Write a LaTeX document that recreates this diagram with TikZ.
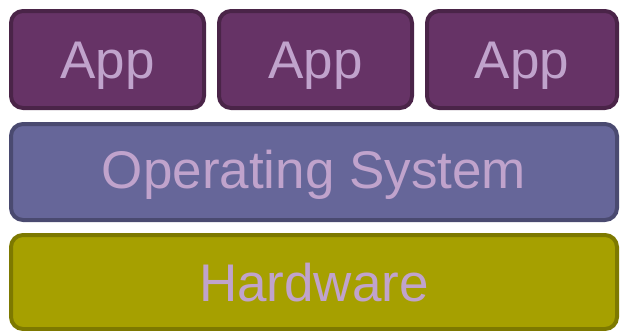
\documentclass[tikz,border=0pt]{standalone}
\usepackage{fontspec}
\setmainfont{Liberation Sans}
\usepackage{tikz}

\definecolor{appfill}{RGB}{102,51,102}
\definecolor{appline}{RGB}{74,36,72}
\definecolor{osfill}{RGB}{102,102,153}
\definecolor{osline}{RGB}{74,74,112}
\definecolor{hwfill}{RGB}{166,160,0}
\definecolor{hwline}{RGB}{125,121,0}
\definecolor{layertext}{RGB}{192,163,204}

\begin{document}
\begin{tikzpicture}[x=1pt, y=-1pt, line width=4pt,
    layer/.style={rounded corners=12pt, inner sep=0pt, text=layertext,
      text height=38pt, text depth=0pt, font=\fontsize{53}{60}\selectfont}]
    \useasboundingbox (0, 0) rectangle (620, 330);

    % draw app row
    \node[layer, draw=appline, fill=appfill, minimum width=193pt, minimum height=97pt]
      (app1) at (107.5, 59.5) {App};
    \node[layer, draw=appline, fill=appfill, minimum width=193pt, minimum height=97pt]
      (app2) at (315.5, 59.5) {App};
    \node[layer, draw=appline, fill=appfill, minimum width=190pt, minimum height=97pt]
      (app3) at (522, 59.5) {App};

    % draw operating system
    \node[layer, draw=osline, fill=osfill, minimum width=606pt, minimum height=96pt,
      text depth=6pt] (os) at (314, 172) {Operating System};

    % draw hardware
    \node[layer, draw=hwline, fill=hwfill, minimum width=606pt, minimum height=94pt]
      (hw) at (314, 282) {Hardware};
\end{tikzpicture}
\end{document}
